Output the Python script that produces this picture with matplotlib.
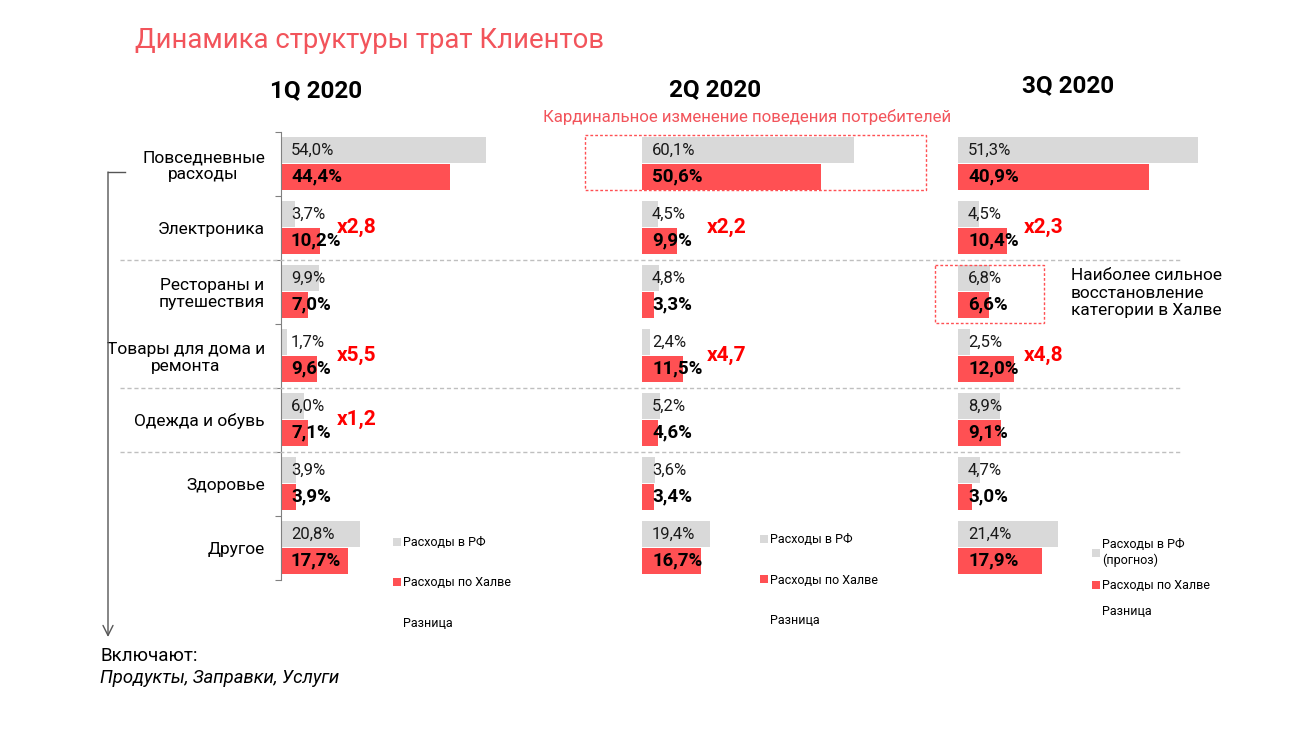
import numpy as np
import matplotlib
matplotlib.use('Agg')
import matplotlib.pyplot as plt
import matplotlib.transforms as mtransforms
from matplotlib.patches import Rectangle, Patch, FancyArrowPatch
from matplotlib.lines import Line2D

plt.rcParams['font.family'] = ['Roboto', 'DejaVu Sans']

# data
categories = ['Повседневные\nрасходы', 'Электроника', 'Рестораны и\nпутешествия',
              'Товары для дома и\nремонта', 'Одежда и обувь', 'Здоровье', 'Другое']
quarters = ['1Q 2020', '2Q 2020', '3Q 2020']
rf_q1 = [54.0, 3.7, 9.9, 1.7, 6.0, 3.9, 20.8]
halva_q1 = [44.4, 10.2, 7.0, 9.6, 7.1, 3.9, 17.7]
rf_q2 = [60.1, 4.5, 4.8, 2.4, 5.2, 3.6, 19.4]
halva_q2 = [50.6, 9.9, 3.3, 11.5, 4.6, 3.4, 16.7]
rf_q3 = [51.3, 4.5, 6.8, 2.5, 8.9, 4.7, 21.4]
halva_q3 = [40.9, 10.4, 6.6, 12.0, 9.1, 3.0, 17.9]
mult_q1 = {1: 'x2,8', 3: 'x5,5', 4: 'x1,2'}
mult_q2 = {1: 'x2,2', 3: 'x4,7'}
mult_q3 = {1: 'x2,3', 3: 'x4,8'}
rf_labels = ['Расходы в РФ', 'Расходы в РФ', 'Расходы в РФ\n(прогноз)']
halva_label = 'Расходы по Халве'
diff_label = 'Разница'

GRAY = '#D9D9D9'
RED = '#FF5053'
TITLE_RED = '#F2545B'
MULT_RED = '#FF0000'

W, H = 1300, 731
fig = plt.figure(figsize=(13, 7.31), dpi=100)

def fx(x):
    return x / W

def fy(y):
    return 1 - y / H

def pct(v):
    return ('%.1f' % v).replace('.', ',') + '%'

# panel geometry (pixels)
lefts = [281, 642, 958]
scales = [3.8, 3.53, 4.68]       # px per percent
mult_off = [56, 65, 66]          # px from bar base
legend_pos = [(393, 536), (760, 533), (1092, 538)]
legend_sp = [2.2, 2.2, 1.0]
ax_top, ax_bot = 131.5, 579.5

rf_all = [rf_q1, rf_q2, rf_q3]
halva_all = [halva_q1, halva_q2, halva_q3]
mult_all = [mult_q1, mult_q2, mult_q3]
ypos = np.arange(len(categories))
axes = []

for k in range(3):
    ax = fig.add_axes([fx(lefts[k]), fy(ax_bot), 250 / W, (ax_bot - ax_top) / H])
    ax.set_xlim(0, 250 / scales[k])
    ax.set_ylim(6.5, -0.5)
    ax.barh(ypos - 0.207, rf_all[k], height=0.41, color=GRAY, label=rf_labels[k])
    ax.barh(ypos + 0.207, halva_all[k], height=0.41, color=RED, label=halva_label)
    for i in range(len(categories)):
        ax.annotate(pct(rf_all[k][i]), xy=(0, i - 0.207), xytext=(7.2, 0),
                    textcoords='offset points', va='center', ha='left',
                    fontsize=12, color='#1a1a1a')
        ax.annotate(pct(halva_all[k][i]), xy=(0, i + 0.207), xytext=(7.2, 0),
                    textcoords='offset points', va='center', ha='left',
                    fontsize=13.5, fontweight='bold', color='black')
    for i, s in mult_all[k].items():
        ax.annotate(s, xy=(0, i), xytext=(mult_off[k] * 0.72, 0),
                    textcoords='offset points', va='center', ha='left',
                    fontsize=15, fontweight='bold', color=MULT_RED)
    ax.set_xticks([])
    for sp in ['top', 'right', 'bottom']:
        ax.spines[sp].set_visible(False)
    if k == 0:
        ax.spines['left'].set_color('#808080')
        ax.set_yticks(np.arange(-0.5, 7, 1))
        ax.set_yticklabels([])
        ax.tick_params(axis='y', which='major', length=4, color='#808080')
        ax.set_yticks(ypos, labels=categories, minor=True)
        ax.tick_params(axis='y', which='minor', length=0, pad=11.5, labelsize=12.5)
        for t in ax.get_yticklabels(minor=True):
            t.set_multialignment('center')
    else:
        ax.spines['left'].set_visible(False)
        ax.set_yticks([])
    handles = [Patch(facecolor=GRAY), Patch(facecolor=RED),
               Patch(facecolor='none', edgecolor='none')]
    fig.legend(handles, [rf_labels[k], halva_label, diff_label], loc='upper left',
               bbox_to_anchor=(fx(legend_pos[k][0]), fy(legend_pos[k][1])),
               frameon=False, fontsize=9, handlelength=0.6, handleheight=0.6,
               handletextpad=0.2, labelspacing=legend_sp[k], borderpad=0,
               borderaxespad=0)
    axes.append(ax)

# dashed separators across panels
blend = mtransforms.blended_transform_factory(fig.transFigure, axes[0].transData)
for b in [1.5, 3.5, 4.5]:
    fig.add_artist(Line2D([fx(120), fx(1180)], [b, b], transform=blend,
                          color='#BFBFBF', lw=1, ls=(0, (3, 2))))

# highlight boxes
axes[1].add_patch(Rectangle((-16.1, -0.45), 96.5, 0.86, fill=False, edgecolor=RED,
                            lw=1, ls=(0, (2, 1.5)), clip_on=False))
axes[2].add_patch(Rectangle((-4.9, 1.59), 23.3, 0.9, fill=False, edgecolor=RED,
                            lw=1, ls=(0, (2, 1.5)), clip_on=False))

# titles
fig.text(fx(135), fy(40), 'Динамика структуры трат Клиентов', fontsize=19.8,
         color=TITLE_RED, va='center', ha='left')
for q, (x, y) in zip(quarters, [(316, 91), (715, 90), (1068, 86)]):
    fig.text(fx(x), fy(y), q, fontsize=17.5, fontweight='bold', ha='center', va='center')
fig.text(fx(747), fy(117), 'Кардинальное изменение поведения потребителей',
         fontsize=12.2, color=TITLE_RED, ha='center', va='center')
fig.text(fx(1071), fy(293), 'Наиболее сильное\nвосстановление\nкатегории в Халве',
         fontsize=12.4, ha='left', va='center', linespacing=1.22)

# bracket + arrow
fig.add_artist(Line2D([fx(125), fx(108)], [fy(172), fy(172)], transform=fig.transFigure,
                      color='#555555', lw=1))
fig.add_artist(FancyArrowPatch((fx(108), fy(172)), (fx(108), fy(637)),
                               transform=fig.transFigure, arrowstyle='->',
                               mutation_scale=18, color='#555555', lw=1,
                               shrinkA=0, shrinkB=0))
fig.text(fx(100), fy(656), 'Включают:', fontsize=13.5, ha='left', va='center')
fig.text(fx(100), fy(678), 'Продукты, Заправки, Услуги', fontsize=13.3,
         style='italic', ha='left', va='center')

fig.savefig('out.png', dpi=100)
